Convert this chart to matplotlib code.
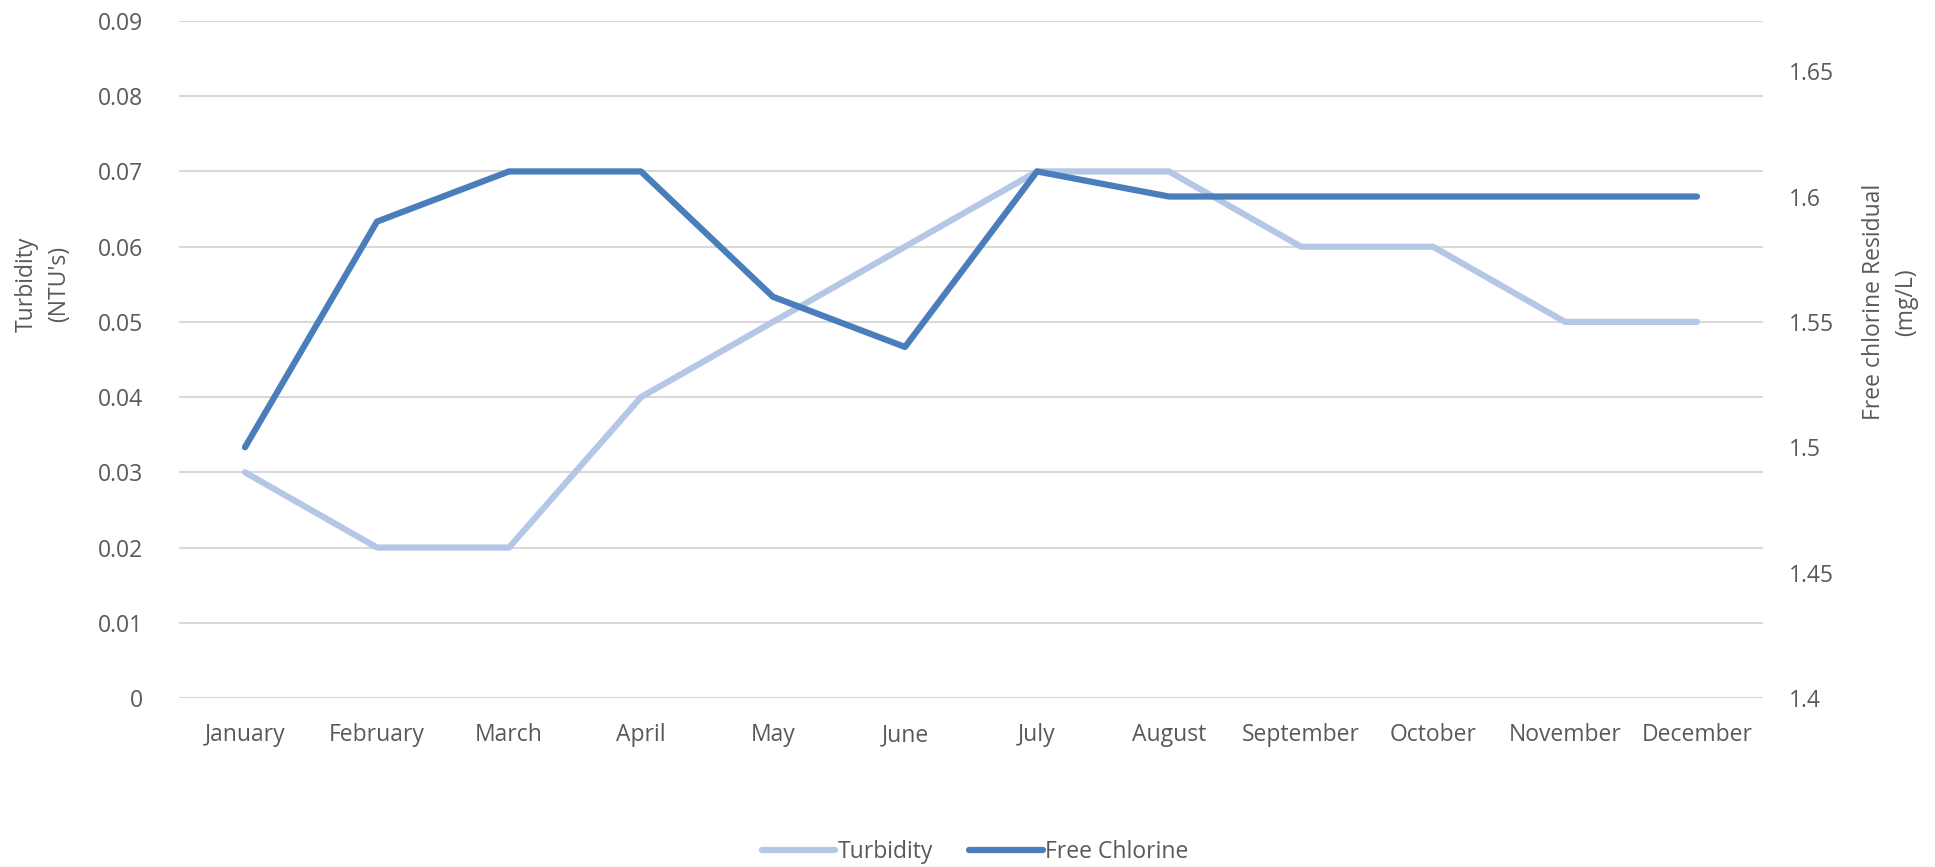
import matplotlib
matplotlib.use("Agg")
import matplotlib.pyplot as plt
from matplotlib.lines import Line2D

months = ["January", "February", "March", "April", "May", "June", "July",
          "August", "September", "October", "November", "December"]
turbidity = [0.03, 0.02, 0.02, 0.04, 0.05, 0.06, 0.07, 0.07, 0.06, 0.06, 0.05, 0.05]
free_chlorine = [1.50, 1.59, 1.61, 1.61, 1.56, 1.54, 1.61, 1.60, 1.60, 1.60, 1.60, 1.60]
left_ticks = [0, 0.01, 0.02, 0.03, 0.04, 0.05, 0.06, 0.07, 0.08, 0.09]
left_labels = ["0", "0.01", "0.02", "0.03", "0.04", "0.05", "0.06", "0.07", "0.08", "0.09"]
right_ticks = [1.4, 1.45, 1.5, 1.55, 1.6, 1.65]
right_labels = ["1.4", "1.45", "1.5", "1.55", "1.6", "1.65"]

plt.rcParams['font.family'] = ['Open Sans', 'DejaVu Sans']
txt = "#595959"
c_turb = "#B4C7E7"
c_cl = "#4A7EBB"
fs = 16.5

W, H = 1935, 867
fig = plt.figure(figsize=(W / 100, H / 100), dpi=100)
x0, x1, y0, y1 = 179, 1763, 21, 698
ax = fig.add_axes([x0 / W, 1 - y1 / H, (x1 - x0) / W, (y1 - y0) / H])
ax2 = ax.twinx()

x = list(range(len(months)))
ax.plot(x, turbidity, color=c_turb, lw=4.5, solid_capstyle='round', solid_joinstyle='round', zorder=3)
ax2.plot(x, free_chlorine, color=c_cl, lw=4.5, solid_capstyle='round', solid_joinstyle='round', zorder=3)

ax.set_xlim(-0.5, len(months) - 0.5)
ax.set_ylim(0, 0.09)
ax2.set_ylim(1.4, 1.67)
ax.set_yticks(left_ticks)
ax.set_yticklabels(left_labels)
ax2.set_yticks(right_ticks)
ax2.set_yticklabels(right_labels)
ax.set_xticks(x)
ax.set_xticklabels(months)

ax.grid(axis='y', color='#D9D9D9', lw=1.5)
ax.set_axisbelow(True)
for a in (ax, ax2):
    for s in a.spines.values():
        s.set_visible(False)
    a.tick_params(length=0, colors=txt, labelsize=fs)
ax.tick_params(axis='y', pad=26)
ax.tick_params(axis='x', pad=18)
ax2.tick_params(axis='y', pad=19)

fig.text(43 / W, 1 - 284 / H, "Turbidity\n(NTU's)", rotation=90, ha='center', va='center',
         color=txt, fontsize=fs, linespacing=1.5)
fig.text(1890 / W, 1 - 302 / H, "Free chlorine Residual\n(mg/L)", rotation=90, ha='center', va='center',
         color=txt, fontsize=fs, linespacing=1.5)

handles = [Line2D([], [], color=c_turb, lw=4.5, solid_capstyle='round'),
           Line2D([], [], color=c_cl, lw=4.5, solid_capstyle='round')]
fig.legend(handles, ["Turbidity", "Free Chlorine"], loc='center', bbox_to_anchor=(975 / W, 1 - 852 / H),
           ncol=2, frameon=False, fontsize=fs, labelcolor=txt, handlelength=3.2, handletextpad=0.1,
           columnspacing=1.6)

fig.savefig("out.png", dpi=100)
